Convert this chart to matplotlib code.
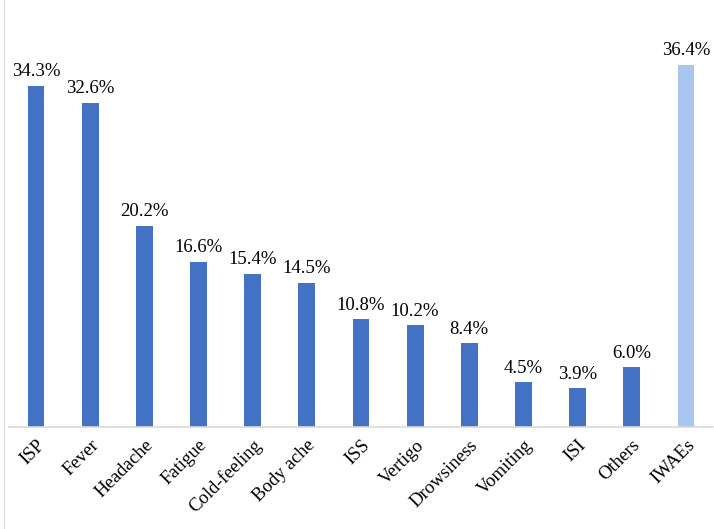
import matplotlib.pyplot as plt
from matplotlib.lines import Line2D

categories = ['ISP', 'Fever', 'Headache', 'Fatigue', 'Cold-feeling', 'Body ache',
              'ISS', 'Vertigo', 'Drowsiness', 'Vomiting', 'ISI', 'Others', 'IWAEs']
values = [34.3, 32.6, 20.2, 16.6, 15.4, 14.5, 10.8, 10.2, 8.4, 4.5, 3.9, 6.0, 36.4]
labels = ['34.3%', '32.6%', '20.2%', '16.6%', '15.4%', '14.5%', '10.8%',
          '10.2%', '8.4%', '4.5%', '3.9%', '6.0%', '36.4%']

plt.rcParams['font.family'] = ['Liberation Serif', 'DejaVu Serif']

fig = plt.figure(figsize=(7.14, 5.29), dpi=100)
ax = fig.add_axes([0.0126, 0.193, 0.986, 0.752])

colors = ['#4472C4'] * (len(values) - 1) + ['#A9C6EE']
x = range(len(categories))
bars = ax.bar(x, values, width=0.31, color=colors)

for b, lab in zip(bars, labels):
    ax.annotate(lab, (b.get_x() + b.get_width() / 2, b.get_height()),
                xytext=(0, 4), textcoords='offset points',
                ha='center', va='bottom', fontsize=13.5)

ax.set_xlim(-0.5, len(categories) - 0.5)
ax.set_ylim(0, 40)
ax.set_xticks(list(x))
ax.set_xticklabels(categories, rotation=45, ha='right', rotation_mode='anchor',
                   fontsize=13.5)
ax.tick_params(axis='x', length=0, pad=7)
ax.set_yticks([])
for s in ['top', 'right', 'left']:
    ax.spines[s].set_visible(False)
ax.spines['bottom'].set_color('#D9D9D9')
ax.spines['bottom'].set_linewidth(1.2)

# thin border line at left edge
fig.add_artist(Line2D([0.005, 0.005], [0.0, 1.0], color='#E0E0E0', lw=1,
                      transform=fig.transFigure))

fig.savefig('out.png', dpi=100)
